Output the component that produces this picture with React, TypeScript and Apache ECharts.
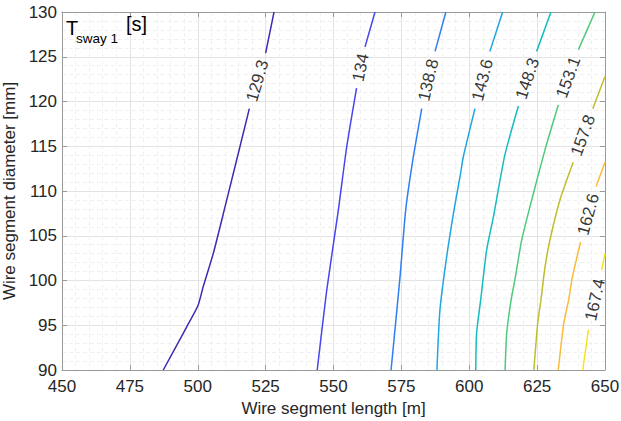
import React, { useEffect, useRef } from "react";
import * as echarts from "echarts";

type Pt = [number, number];

// Axis ranges and tick steps
const xRange: Pt = [450, 650];
const yRange: Pt = [90, 130];
const xStep = 25;
const yStep = 5;

// Contour levels of the first sway period [s]
const levels = [129.3, 134, 138.8, 143.6, 148.3, 153.1, 157.8, 162.6, 167.4];

// Each contour is split where its inline label sits: part below and part above the label
const c129Lower: Pt[] = [[487.3, 90], [495.9, 94.8], [500.1, 97.2], [502.0, 99.3], [505.7, 103.0], [509.7, 107.8], [519.0, 119.2]];
const c129Upper: Pt[] = [[525.0, 125.4], [528.1, 130]];

const c134Lower: Pt[] = [[544.0, 90], [547.5, 98.9], [551.8, 107.9], [554.9, 115.0], [558.5, 121.5]];
const c134Upper: Pt[] = [[561.6, 126.1], [565.3, 130]];

const c138Lower: Pt[] = [[571.2, 90], [574.5, 100.4], [576.6, 107.9], [579.4, 113.8], [582.5, 119.2]];
const c138Upper: Pt[] = [[587.4, 125.6], [591.4, 130]];

const c143Lower: Pt[] = [[588.1, 90], [589.2, 96.7], [591.7, 102.7], [594.4, 107.9], [596.6, 111.6], [597.8, 113.8], [602.1, 119.2]];
const c143Upper: Pt[] = [[607.6, 125.6], [612.3, 130]];

const c148Lower: Pt[] = [[602.4, 90], [602.7, 94.1], [604.2, 97.8], [606.4, 103.4], [608.9, 107.1], [613.1, 114.0], [618.1, 119.5]];
const c148Upper: Pt[] = [[624.8, 125.6], [630.1, 130]];

const c153Lower: Pt[] = [[613.2, 90], [613.8, 94.1], [615.4, 97.8], [617.0, 100.4], [619.3, 104.5], [623.0, 109.0], [627.9, 114.6], [632.8, 119.6]];
const c153Upper: Pt[] = [[640.2, 125.8], [646.3, 130]];

const c157Lower: Pt[] = [[623.8, 90], [625.2, 95.2], [626.4, 97.8], [627.9, 101.5], [629.7, 104.5], [633.4, 109.0], [638.3, 113.2]];
const c157Upper: Pt[] = [[645.5, 119.2], [650, 122.8]];

const c162Lower: Pt[] = [[632.8, 90], [634.8, 95.2], [636.6, 97.8], [638.0, 100.4], [641.0, 104.3]];
const c162Upper: Pt[] = [[646.7, 110.5], [650, 113.2]];

const c167Lower: Pt[] = [[641.8, 90], [643.9, 94.5]];
const c167Upper: Pt[] = [[648.8, 101.2], [650, 103.0]];

const lowerParts = [c129Lower, c134Lower, c138Lower, c143Lower, c148Lower, c153Lower, c157Lower, c162Lower, c167Lower];
const upperParts = [c129Upper, c134Upper, c138Upper, c143Upper, c148Upper, c153Upper, c157Upper, c162Upper, c167Upper];

// Parula-like colours, low to high level
const levelColors = ["#3b2db3", "#4646ee", "#2f7ef3", "#1fa5e2", "#14bcc0", "#4fc97c", "#c1bd2c", "#fbbb3c", "#f6e41e"];

const FONT = "'Liberation Sans', Arial, Helvetica, sans-serif";
const AXIS_COLOR = "#9a9a9a";
const TEXT_COLOR = "#262626";

function axisCommon(showLabels: boolean) {
  return {
    type: "value" as const,
    axisLine: { show: true, onZero: false, lineStyle: { color: AXIS_COLOR, width: 1 } },
    axisTick: { show: true, inside: true, length: 5, lineStyle: { color: AXIS_COLOR } },
    axisLabel: { show: showLabels, color: TEXT_COLOR, fontSize: 17, fontFamily: FONT },
  };
}

function buildOption(): echarts.EChartsCoreOption {
  const lineSeries: any[] = [];
  levels.forEach((lv, i) => {
    [lowerParts[i], upperParts[i]].forEach((part) => {
      lineSeries.push({
        type: "line",
        name: String(lv),
        data: part,
        symbol: "none",
        showSymbol: false,
        smooth: 0.2,
        clip: true,
        lineStyle: { color: levelColors[i], width: 1.5 },
        z: 3,
      });
    });
  });

  return {
    animation: false,
    backgroundColor: "#ffffff",
    textStyle: { fontFamily: FONT },
    grid: { left: 62, right: 16, top: 12, bottom: 51, outerBoundsMode: "none", containLabel: false },
    xAxis: [
      {
        ...axisCommon(true),
        position: "bottom",
        min: xRange[0],
        max: xRange[1],
        interval: xStep,
        name: "Wire segment length [m]",
        nameLocation: "middle",
        nameGap: 29,
        nameTextStyle: { color: TEXT_COLOR, fontSize: 17, fontFamily: FONT },
        axisLabel: { show: true, color: TEXT_COLOR, fontSize: 17, fontFamily: FONT, margin: 8 },
        splitLine: { show: true, lineStyle: { color: "#e3e3e3", width: 1 } },
        minorTick: { show: false, splitNumber: 5 },
        minorSplitLine: { show: true, lineStyle: { color: "#f0f0f0", width: 1, type: [4, 3] } },
      },
      {
        ...axisCommon(false),
        position: "top",
        min: xRange[0],
        max: xRange[1],
        interval: xStep,
        splitLine: { show: false },
      },
    ],
    yAxis: [
      {
        ...axisCommon(true),
        position: "left",
        min: yRange[0],
        max: yRange[1],
        interval: yStep,
        name: "Wire segment diameter [mm]",
        nameLocation: "middle",
        nameGap: 37,
        nameRotate: 90,
        nameTextStyle: { color: TEXT_COLOR, fontSize: 17, fontFamily: FONT },
        axisLabel: { show: true, color: TEXT_COLOR, fontSize: 17, fontFamily: FONT, margin: 5 },
        splitLine: { show: true, lineStyle: { color: "#e3e3e3", width: 1 } },
        minorTick: { show: false, splitNumber: 5 },
        minorSplitLine: { show: true, lineStyle: { color: "#f0f0f0", width: 1, type: [4, 3] } },
      },
      {
        ...axisCommon(false),
        position: "right",
        min: yRange[0],
        max: yRange[1],
        interval: yStep,
        splitLine: { show: false },
      },
    ],
    graphic: [
      {
        type: "text",
        left: 66,
        top: 18,
        z: 10,
        style: { text: "T", fontSize: 20, fontFamily: FONT, fill: "#000000" },
      },
      {
        type: "text",
        left: 76,
        top: 31,
        z: 10,
        style: { text: "sway 1", fontSize: 13.5, fontFamily: FONT, fill: "#000000" },
      },
      {
        type: "text",
        left: 126,
        top: 14,
        z: 10,
        style: { text: "[s]", fontSize: 20, fontFamily: FONT, fill: "#000000" },
      },
    ],
    series: lineSeries,
  };
}

export default function App() {
  const ref = useRef<HTMLDivElement>(null);

  useEffect(() => {
    if (!ref.current) return;
    document.body.style.margin = "0";
    const chart = echarts.init(ref.current, undefined, { renderer: "svg", width: 621, height: 421 });
    const option = buildOption();
    chart.setOption(option);

    // Inline level labels: centred in each gap, rotated along the gap's chord
    const labelSeries = levels.map((lv, i) => {
      const a = lowerParts[i][lowerParts[i].length - 1];
      const b = upperParts[i][0];
      const pa = chart.convertToPixel({ gridIndex: 0 }, a) as number[];
      const pb = chart.convertToPixel({ gridIndex: 0 }, b) as number[];
      const angle = (Math.atan2(pa[1] - pb[1], pb[0] - pa[0]) * 180) / Math.PI;
      return {
        type: "scatter",
        name: "label " + lv,
        data: [[(a[0] + b[0]) / 2, (a[1] + b[1]) / 2]],
        symbolSize: 1,
        itemStyle: { color: "transparent" },
        silent: true,
        z: 4,
        label: {
          show: true,
          position: "inside",
          formatter: String(lv),
          rotate: angle,
          color: "#000000",
          fontSize: 17,
          fontFamily: FONT,
        },
      };
    });
    chart.setOption({ series: [...(option.series as any[]), ...labelSeries] });

    return () => chart.dispose();
  }, []);

  return <div ref={ref} style={{ width: 621, height: 421 }} />;
}
